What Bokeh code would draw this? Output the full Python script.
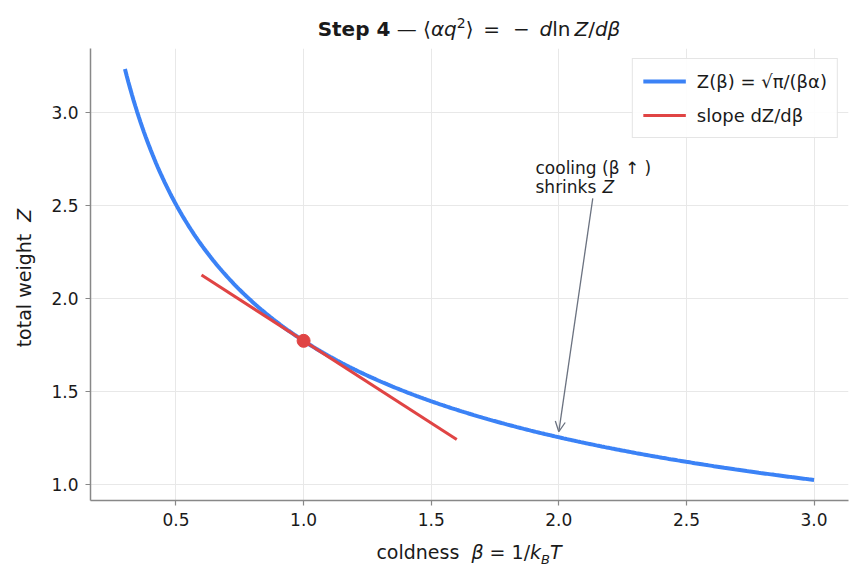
import numpy as np
from bokeh.plotting import figure
from bokeh.layouts import column, row
from bokeh.models import Label, Arrow, OpenHead, Range1d, FixedTicker, PrintfTickFormatter, Div
from bokeh.embed import file_html
from bokeh.resources import INLINE

# --- model values ---------------------------------------------------------
alpha = 1.0                      # stiffness in Z(beta) = sqrt(pi / (beta * alpha))
beta_min, beta_max = 0.3, 3.0    # plotted coldness range
beta_tangent = 1.0               # point where the slope is drawn
tangent_span = (0.6, 1.6)        # extent of the tangent segment
beta_arrow = 2.0                 # where the "cooling" note points

x_ticks = [0.5, 1.0, 1.5, 2.0, 2.5, 3.0]
y_ticks = [1.0, 1.5, 2.0, 2.5, 3.0]

BLUE = "#3b82f6"
RED = "#e04444"
GREY = "#6b7280"
SPINE = "#888888"
TEXT = "#1a1a1a"
FONT = "DejaVu Sans"


def Z(b):
    return np.sqrt(np.pi / (np.asarray(b) * alpha))


def dZ(b):
    return -0.5 * np.sqrt(np.pi / alpha) * np.asarray(b) ** -1.5


beta = np.linspace(beta_min, beta_max, 400)
z = Z(beta)

bt = np.array(tangent_span)
zt = Z(beta_tangent) + dZ(beta_tangent) * (bt - beta_tangent)

# 5 % padding around the curve
xpad = 0.05 * (beta_max - beta_min)
ypad = 0.05 * (z.max() - z.min())

# page layout (pixels)
W, H = 863, 578
TITLE_H, XLAB_H, YLAB_W = 40, 40, 40
FIG_W, FIG_H = W - YLAB_W, H - TITLE_H - XLAB_H
B_LEFT, B_RIGHT, B_TOP, B_BOTTOM = 50, 15, 8, 38

p = figure(width=FIG_W, height=FIG_H, output_backend="svg", toolbar_location=None,
           x_range=Range1d(beta_min - xpad, beta_max + xpad),
           y_range=Range1d(z.min() - ypad, z.max() + ypad),
           min_border_left=B_LEFT, min_border_right=B_RIGHT,
           min_border_top=B_TOP, min_border_bottom=B_BOTTOM, margin=0)
p.outline_line_color = None
p.background_fill_color = "white"
p.border_fill_color = "white"

p.line(beta, z, line_color=BLUE, line_width=4, legend_label="Z(β) = √π/(βα)")
p.line(bt, zt, line_color=RED, line_width=3, legend_label="slope dZ/dβ")
p.scatter([beta_tangent], [float(Z(beta_tangent))], size=13, color=RED)

# axes
for ax in (p.xaxis[0], p.yaxis[0]):
    ax.axis_line_color = SPINE
    ax.axis_line_width = 1.5
    ax.major_tick_line_color = SPINE
    ax.major_tick_line_width = 1.2
    ax.major_tick_out = 5
    ax.major_tick_in = 0
    ax.minor_tick_line_color = None
    ax.major_label_text_font = FONT
    ax.major_label_text_font_size = "17px"
    ax.major_label_text_color = TEXT
    ax.major_label_standoff = 7
    ax.formatter = PrintfTickFormatter(format="%.1f")
p.xaxis.ticker = FixedTicker(ticks=x_ticks)
p.yaxis.ticker = FixedTicker(ticks=y_ticks)
p.grid.grid_line_color = "#e8e8e8"
p.grid.grid_line_width = 1
p.xgrid.ticker = FixedTicker(ticks=x_ticks)
p.ygrid.ticker = FixedTicker(ticks=y_ticks)

# legend
lg = p.legend[0]
lg.location = "top_right"
lg.margin = 10
lg.padding = 10
lg.spacing = 10
lg.glyph_width = 43
lg.glyph_height = 24
lg.label_height = 24
lg.label_standoff = 11
lg.label_text_font = FONT
lg.label_text_font_size = "18px"
lg.label_text_color = TEXT
lg.border_line_color = "#cccccc"
lg.border_line_width = 1.2
lg.background_fill_alpha = 0.9

# frame origin on the page, used to place the note text
FRAME_X0 = YLAB_W + B_LEFT
FRAME_Y1 = TITLE_H + FIG_H - B_BOTTOM


def note(text, cx, cy, style="normal"):
    p.add_layout(Label(x=cx - FRAME_X0, y=FRAME_Y1 - cy, x_units="screen", y_units="screen",
                       text=text, text_font=FONT, text_font_size="17px",
                       text_font_style=style, text_color=TEXT,
                       text_align="left", text_baseline="alphabetic"))


note("cooling (β ↑ )", 535, 167)
note("shrinks", 535, 186)
note("Z", 602, 186, "italic")
p.add_layout(Arrow(end=OpenHead(size=10, line_color=GREY, line_width=1.3),
                   x_start=2.133, y_start=2.54,
                   x_end=beta_arrow, y_end=float(Z(beta_arrow)) + 0.03,
                   line_color=GREY, line_width=1.3))

# title and axis labels (mixed bold / italic text)
center_x = YLAB_W + B_LEFT + (FIG_W - B_LEFT - B_RIGHT) / 2
base = f"font-family:'{FONT}';color:{TEXT};white-space:nowrap;position:absolute;"
sp = "&#8198;"  # extra operator spacing

title = Div(width=W, height=TITLE_H, margin=0, text=(
    f"<div style='position:relative;width:{W}px;height:{TITLE_H}px'>"
    f"<div style=\"{base}font-size:20px;line-height:20px;left:{center_x}px;top:19px;"
    f"transform:translateX(-50%)\">"
    f"<b>Step 4</b> — ⟨<i>αq</i><sup style='font-size:14px;line-height:0'>2</sup>⟩"
    f"{sp} ={sp} {sp}− {sp}<i>d</i>ln&#8201;<i>Z</i>/<i>dβ</i></div></div>"))

ylab_cy = 237.5
ylabel = Div(width=YLAB_W, height=FIG_H, margin=0, text=(
    f"<div style='position:relative;width:{YLAB_W}px;height:{FIG_H}px'>"
    f"<div style=\"{base}font-size:19px;left:25px;top:{ylab_cy}px;"
    f"transform:translate(-50%,-50%) rotate(-90deg)\">"
    "total weight&nbsp;&nbsp;<i>Z</i></div></div>"))

xlabel = Div(width=W, height=XLAB_H, margin=0, text=(
    f"<div style='position:relative;width:{W}px;height:{XLAB_H}px'>"
    f"<div style=\"{base}font-size:19px;line-height:19px;left:{center_x}px;top:5px;"
    f"transform:translateX(-50%)\">"
    "coldness&nbsp;&nbsp;<i>β</i> = 1/<i>k</i><sub style='font-size:13px'><i>B</i></sub><i>T</i>"
    "</div></div>"))

page = column(title, row(ylabel, p, margin=0, spacing=0), xlabel, margin=0, spacing=0)

open("out.html", "w").write(file_html(page, INLINE))
